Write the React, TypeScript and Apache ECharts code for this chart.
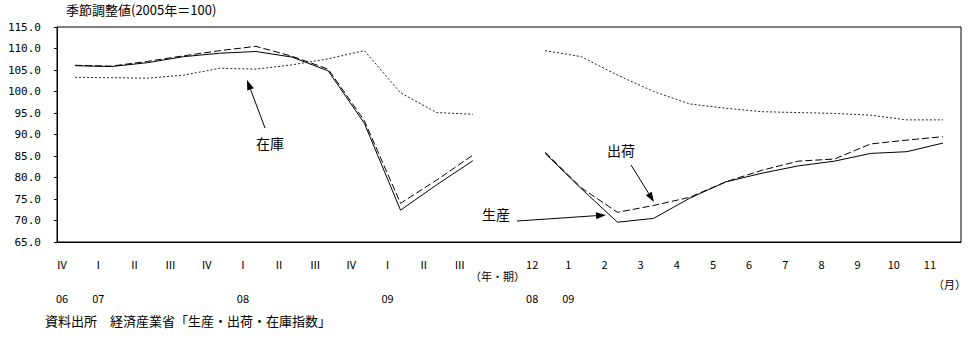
import React, { useEffect, useRef } from "react";
import * as echarts from "echarts";

const quarterLabels = ["Ⅳ", "Ⅰ", "Ⅱ", "Ⅲ", "Ⅳ", "Ⅰ", "Ⅱ", "Ⅲ", "Ⅳ", "Ⅰ", "Ⅱ", "Ⅲ"];
const quarterYears = ["06", "07", "", "", "", "08", "", "", "", "09", "", ""];
const monthLabels = ["12", "1", "2", "3", "4", "5", "6", "7", "8", "9", "10", "11"];
const monthYears = ["08", "09", "", "", "", "", "", "", "", "", "", ""];

const productionQ = [106.0, 105.8, 106.7, 108.1, 108.9, 109.3, 108.0, 104.8, 92.6, 72.4, 78.3, 83.9];
const shipmentsQ = [106.1, 105.9, 107.0, 108.3, 109.5, 110.5, 108.2, 105.2, 93.2, 74.0, 79.4, 85.2];
const inventoryQ = [103.3, 103.2, 103.1, 103.8, 105.4, 105.2, 106.2, 107.6, 109.5, 99.7, 95.1, 94.7];
const productionM = [85.6, 77.4, 69.6, 70.5, 75.2, 79.0, 81.0, 82.7, 83.8, 85.6, 86.0, 88.0];
const shipmentsM = [85.9, 77.6, 71.9, 73.5, 75.4, 79.0, 81.7, 83.8, 84.3, 87.8, 88.7, 89.5];
const inventoryM = [109.5, 108.1, 103.8, 100.0, 97.1, 96.1, 95.3, 95.1, 94.9, 94.5, 93.4, 93.4];

const categories = [...quarterLabels, "", ...monthLabels];
const yearRow = [...quarterYears, "", ...monthYears];
const join = (a: number[], b: number[]) => [...a, null, ...b];

const JP = '"Noto Sans CJK JP", sans-serif';
const MONO = '"DejaVu Sans Mono", monospace';

function arrow(x1: number, y1: number, x2: number, y2: number) {
  const dx = x2 - x1;
  const dy = y2 - y1;
  const len = Math.sqrt(dx * dx + dy * dy);
  const ux = dx / len;
  const uy = dy / len;
  const hl = 10;
  const hw = 3.5;
  const bx = x2 - ux * hl;
  const by = y2 - uy * hl;
  return [
    {
      type: "line",
      shape: { x1, y1, x2: bx, y2: by },
      style: { stroke: "#000", lineWidth: 1 },
    },
    {
      type: "polygon",
      shape: {
        points: [
          [x2, y2],
          [bx - uy * hw, by + ux * hw],
          [bx + uy * hw, by - ux * hw],
        ],
      },
      style: { fill: "#000" },
    },
  ];
}

export default function App() {
  const ref = useRef<HTMLDivElement>(null);
  useEffect(() => {
    document.body.style.margin = "0";
    const chart = echarts.init(ref.current!, undefined, { renderer: "svg" });
    chart.setOption({
      animation: false,
      backgroundColor: "#fff",
      grid: {
        left: 57,
        right: 16,
        top: 27,
        bottom: 111,
        show: true,
        borderColor: "#000",
        borderWidth: 1,
        backgroundColor: "transparent",
      },
      xAxis: {
        type: "category",
        data: categories,
        boundaryGap: true,
        axisLine: { show: true, lineStyle: { color: "#000", width: 1 } },
        axisTick: { show: false },
        splitLine: { show: false },
        axisLabel: {
          interval: 0,
          margin: 13,
          color: "#000",
          fontFamily: JP,
          fontSize: 11,
          lineHeight: 17,
          padding: [0, 26, 0, 0],
          formatter: (v: string, i: number) => (v === "" ? "" : v + "\n\n" + yearRow[i]),
        },
      },
      yAxis: {
        type: "value",
        min: 65,
        max: 115,
        interval: 5,
        axisLine: { show: true, lineStyle: { color: "#000", width: 1 } },
        axisTick: { show: true, length: 3, lineStyle: { color: "#000" } },
        splitLine: { show: false },
        axisLabel: {
          margin: 16,
          color: "#000",
          fontFamily: MONO,
          fontSize: 11,
          formatter: (v: number) => v.toFixed(1),
        },
      },
      series: [
        {
          name: "生産",
          type: "line",
          data: join(productionQ, productionM),
          showSymbol: false,
          connectNulls: false,
          lineStyle: { color: "#000", width: 1, type: "solid" },
        },
        {
          name: "出荷",
          type: "line",
          data: join(shipmentsQ, shipmentsM),
          showSymbol: false,
          connectNulls: false,
          lineStyle: { color: "#000", width: 1, type: [7, 3] },
        },
        {
          name: "在庫",
          type: "line",
          data: join(inventoryQ, inventoryM),
          showSymbol: false,
          connectNulls: false,
          lineStyle: { color: "#222", width: 1, type: [2, 2] },
        },
      ],
      graphic: [
        {
          type: "text",
          left: 66,
          top: 3,
          style: { text: "季節調整値(2005年＝100)", font: `13px ${JP}`, fill: "#000" },
        },
        {
          type: "text",
          left: 256,
          top: 136,
          style: { text: "在庫", font: `14px ${JP}`, fill: "#000" },
        },
        {
          type: "text",
          left: 607,
          top: 143,
          style: { text: "出荷", font: `14px ${JP}`, fill: "#000" },
        },
        {
          type: "text",
          left: 482,
          top: 207,
          style: { text: "生産", font: `14px ${JP}`, fill: "#000" },
        },
        ...arrow(265, 128, 247, 80),
        ...arrow(631, 165, 654, 202),
        ...arrow(517, 221, 606, 215),
        {
          type: "text",
          left: 470,
          top: 270,
          style: { text: "（年・期）", font: `11px ${JP}`, fill: "#000" },
        },
        {
          type: "text",
          left: 933,
          top: 278,
          style: { text: "（月）", font: `11px ${JP}`, fill: "#000" },
        },
        {
          type: "text",
          left: 45,
          top: 314,
          style: { text: "資料出所　経済産業省「生産・出荷・在庫指数」", font: `13px ${JP}`, fill: "#000" },
        },
      ],
    });
    return () => chart.dispose();
  }, []);
  return (
    <div
      ref={ref}
      style={{ position: "absolute", left: 0, top: 0, width: 977, height: 353, background: "#fff" }}
    />
  );
}
